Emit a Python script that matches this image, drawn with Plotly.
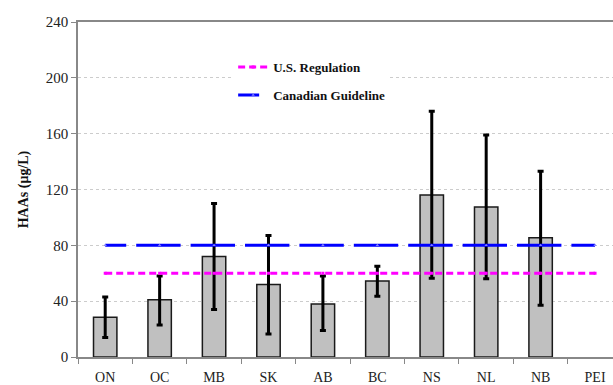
import plotly.graph_objects as go

provinces = ["ON", "OC", "MB", "SK", "AB", "BC", "NS", "NL", "NB", "PEI"]
haa_mean = [28.5, 41, 72, 52, 38, 54.5, 116, 107.5, 85.5, None]
haa_upper = [43, 58, 110, 87, 58, 65, 176, 159, 133, None]
haa_lower = [14, 23, 34, 16.5, 19, 43.5, 56.5, 56, 37, None]
us_regulation = [60] * 10
canadian_guideline = [80] * 10
y_ticks = [0, 40, 80, 120, 160, 200, 240]

err_plus = [(u - m) if m is not None else None for u, m in zip(haa_upper, haa_mean)]
err_minus = [(m - l) if m is not None else None for l, m in zip(haa_lower, haa_mean)]

FONT = "Liberation Serif"

fig = go.Figure()
fig.add_trace(go.Bar(
    x=provinces, y=haa_mean, width=0.43,
    marker=dict(color="#c0c0c0", line=dict(color="#1a1a1a", width=1.5)),
    error_y=dict(type="data", symmetric=False, array=err_plus, arrayminus=err_minus,
                 color="black", thickness=3, width=3),
    showlegend=False,
))
fig.add_trace(go.Scatter(
    x=provinces, y=us_regulation, mode="lines+markers", name="U.S. Regulation",
    line=dict(color="#ff00ff", width=3, dash="7px,4px"),
    marker=dict(symbol="square", size=3, color="#ff00ff"),
    legendgroup="a",
))
blue_dash = "21px,10px," + ",".join(["44.4px,10px"] * 9)
fig.add_trace(go.Scatter(
    x=provinces, y=canadian_guideline, mode="lines+markers", name="Canadian Guideline",
    line=dict(color="#0000ff", width=3, dash=blue_dash),
    marker=dict(symbol="triangle-up", size=3, color="#8080ff"),
    legendgroup="b",
))

fig.update_layout(
    width=613, height=385,
    margin=dict(l=78, r=0, t=22, b=28),
    paper_bgcolor="white", plot_bgcolor="white",
    font=dict(family=FONT, size=14, color="#222222"),
    bargap=0.57,
    legend=dict(
        x=0.29, y=0.91, xanchor="left", yanchor="top",
        bgcolor="white", borderwidth=0,
        font=dict(family=FONT, size=13, color="#111111", weight="bold"),
        traceorder="grouped", tracegroupgap=8,
        itemwidth=30,
    ),
    xaxis=dict(
        type="category", range=[-0.5, 9.33],
        showline=True, linecolor="#888888", linewidth=1.5, mirror=True,
        ticks="outside", tickson="boundaries", ticklen=5, tickcolor="#888888",
        showgrid=False, ticklabelstandoff=6,
        tickfont=dict(family=FONT, size=14, color="#222222"),
    ),
    yaxis=dict(
        range=[0, 240], tickvals=y_ticks,
        showline=True, linecolor="#888888", linewidth=1.5,
        ticks="outside", ticklen=5, tickcolor="#888888",
        showgrid=True, gridcolor="#cccccc", gridwidth=1, griddash="dot",
        zeroline=False,
        tickfont=dict(family=FONT, size=15, color="#222222"),
        title=dict(text="<b>HAAs (μg/L)</b>", standoff=14,
                   font=dict(family=FONT, size=14, color="#111111")),
    ),
)

fig.write_html("out.html")
